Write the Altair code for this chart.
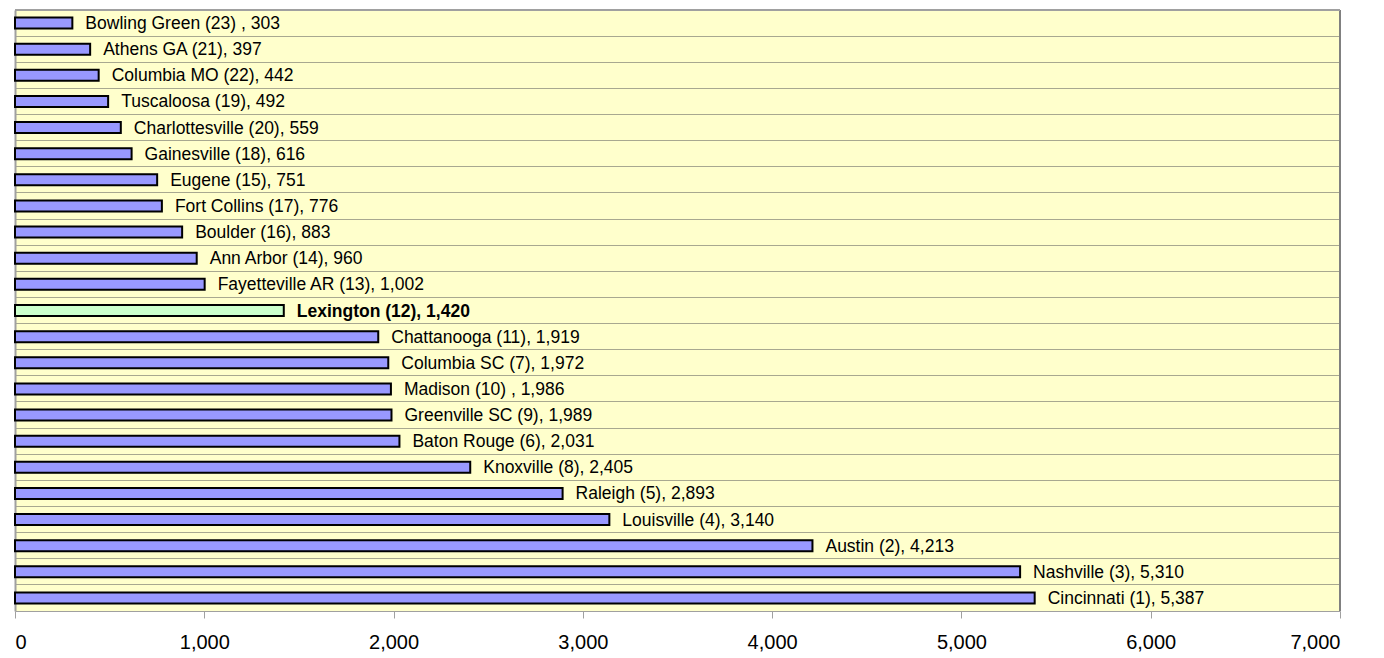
import altair as alt
import pandas as pd

cities = ["Bowling Green (23) ", "Athens GA (21)", "Columbia MO (22)", "Tuscaloosa (19)",
          "Charlottesville (20)", "Gainesville (18)", "Eugene (15)", "Fort Collins (17)",
          "Boulder (16)", "Ann Arbor (14)", "Fayetteville AR (13)", "Lexington (12)",
          "Chattanooga (11)", "Columbia SC (7)", "Madison (10) ", "Greenville SC (9)",
          "Baton Rouge (6)", "Knoxville (8)", "Raleigh (5)", "Louisville (4)",
          "Austin (2)", "Nashville (3)", "Cincinnati (1)"]
values = [303, 397, 442, 492, 559, 616, 751, 776, 883, 960, 1002, 1420,
          1919, 1972, 1986, 1989, 2031, 2405, 2893, 3140, 4213, 5310, 5387]
highlight = "Lexington (12)"

df = pd.DataFrame({"city": cities, "value": values})
df["label"] = [f"{c}, {v:,}" for c, v in zip(cities, values)]
df["hl"] = df["city"] == highlight

W, H = 1325, 601

yscale = alt.Scale(domain=cities, paddingInner=0, paddingOuter=0)
xscale = alt.Scale(domain=[0, 7000], nice=False)

y_enc = alt.Y("city:N", scale=yscale,
              axis=alt.Axis(labels=False, ticks=False, title=None, grid=True,
                            bandPosition=0, gridColor="#a8a890", gridWidth=1,
                            domainColor="#a0a0a0", domainWidth=2))
x_enc = alt.X("value:Q", scale=xscale,
              axis=alt.Axis(values=list(range(0, 7001, 1000)),
                            labelExpr="format(datum.value, ',')",
                            title=None, grid=False, labelFont="Liberation Sans",
                            labelFontSize=20, labelColor="#000000",
                            labelPadding=14, tickSize=7, tickColor="#a0a0a0",
                            domainColor="#a0a0a0", domainWidth=1))

bars = alt.Chart(df).mark_bar(size=11, stroke="#000000", strokeWidth=2).encode(
    y=y_enc, x=x_enc,
    color=alt.Color("hl:N", scale=alt.Scale(domain=[False, True],
                                            range=["#9999ff", "#ccffcc"]), legend=None),
)

text_norm = alt.Chart(df[~df["hl"]]).mark_text(
    align="left", baseline="middle", dx=13, dy=1, font="Liberation Sans",
    fontSize=17.5, color="#000000").encode(
    y=alt.Y("city:N", scale=yscale), x=alt.X("value:Q", scale=xscale), text="label:N")

text_bold = alt.Chart(df[df["hl"]]).mark_text(
    align="left", baseline="middle", dx=13, dy=1, font="Liberation Sans",
    fontSize=17.5, fontWeight="bold", color="#000000").encode(
    y=alt.Y("city:N", scale=yscale), x=alt.X("value:Q", scale=xscale), text="label:N")

right_border = alt.Chart(df).mark_rule(color="#808080", strokeWidth=2).encode(
    x=alt.value(W), y=alt.value(0), y2=alt.value(H))
top_border = alt.Chart(df).mark_rule(color="#a0a0a0", strokeWidth=2).encode(
    y=alt.value(0), x=alt.value(0), x2=alt.value(W))

chart = alt.layer(bars, text_norm, text_bold, right_border, top_border).properties(
    width=W, height=H, padding={"left": 6, "top": 1, "right": 30, "bottom": 5}
).configure(background="#ffffff",
            view=alt.ViewConfig(fill="#ffffcc", strokeWidth=0))

chart.save("out.html", embed_options={"renderer": "svg", "actions": False})
